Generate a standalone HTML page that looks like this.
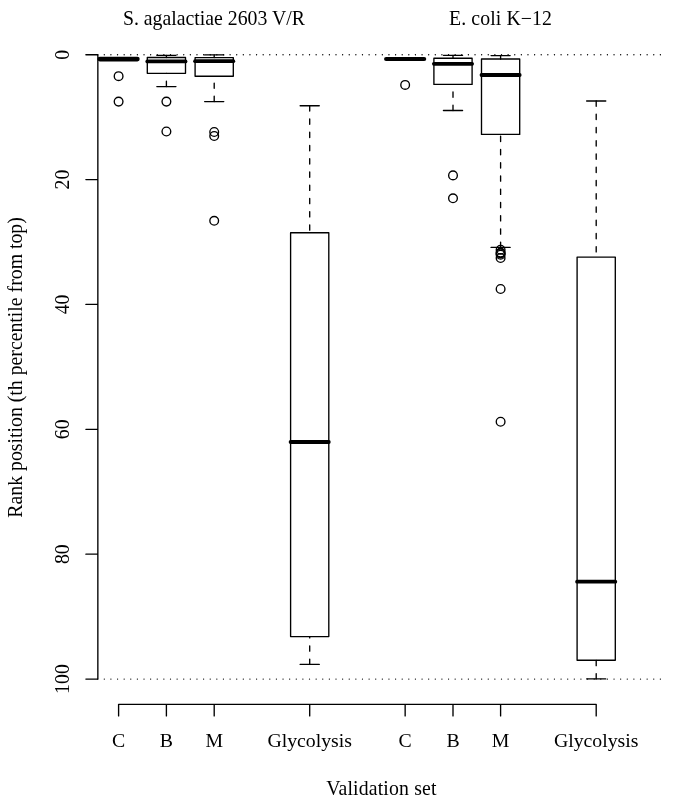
<!DOCTYPE html>
<html lang="en"><head><meta charset="utf-8"><title>Rank position boxplot</title>
<style>html,body{margin:0;padding:0;background:#fff}svg{display:block}</style></head>
<body>
<svg width="685" height="811" viewBox="0 0 685 811">
<rect width="685" height="811" fill="#fff"/>
<g fill="none" stroke="#000" stroke-width="1.35" stroke-linecap="round" stroke-linejoin="round">
<line x1="97.68" y1="54.7" x2="661.0" y2="54.7" stroke-dasharray="0 6.62"/>
<line x1="97.68" y1="679.05" x2="661.0" y2="679.05" stroke-dasharray="0 6.62"/>
<line x1="99.85" y1="59.1" x2="137.35" y2="59.1" stroke-width="4.7"/>
<circle cx="118.6" cy="76.15" r="4.35"/>
<circle cx="118.6" cy="101.6" r="4.35"/>
<line x1="166.4" y1="55.3" x2="166.4" y2="57.5" stroke-dasharray="5.3 7.94"/>
<line x1="156.85" y1="55.3" x2="175.95000000000002" y2="55.3"/>
<line x1="166.4" y1="86.6" x2="166.4" y2="73.3" stroke-dasharray="5.3 7.94"/>
<line x1="156.85" y1="86.6" x2="175.95000000000002" y2="86.6"/>
<rect x="147.3" y="57.5" width="38.2" height="15.799999999999997"/>
<line x1="147.30" y1="61.4" x2="185.50" y2="61.4" stroke-width="3.8"/>
<circle cx="166.4" cy="101.6" r="4.35"/>
<circle cx="166.4" cy="131.5" r="4.35"/>
<line x1="214.2" y1="54.9" x2="214.2" y2="57.6" stroke-dasharray="5.3 7.94"/>
<line x1="204.64999999999998" y1="54.9" x2="223.75" y2="54.9"/>
<line x1="214.2" y1="101.6" x2="214.2" y2="76.2" stroke-dasharray="5.3 7.94"/>
<line x1="204.64999999999998" y1="101.6" x2="223.75" y2="101.6"/>
<rect x="195.1" y="57.6" width="38.2" height="18.6"/>
<line x1="195.10" y1="61.2" x2="233.30" y2="61.2" stroke-width="3.8"/>
<circle cx="214.2" cy="132.0" r="4.35"/>
<circle cx="214.2" cy="136.0" r="4.35"/>
<circle cx="214.2" cy="220.8" r="4.35"/>
<line x1="309.7" y1="105.7" x2="309.7" y2="232.7" stroke-dasharray="5.3 7.94"/>
<line x1="300.15" y1="105.7" x2="319.25" y2="105.7"/>
<line x1="309.7" y1="664.4" x2="309.7" y2="636.6" stroke-dasharray="5.3 7.94"/>
<line x1="300.15" y1="664.4" x2="319.25" y2="664.4"/>
<rect x="290.59999999999997" y="232.7" width="38.2" height="403.90000000000003"/>
<line x1="290.60" y1="442.0" x2="328.80" y2="442.0" stroke-width="3.8"/>
<line x1="386.10" y1="58.95" x2="424.20" y2="58.95" stroke-width="4.1"/>
<circle cx="405.15" cy="84.9" r="4.35"/>
<line x1="453.0" y1="55.3" x2="453.0" y2="58.2" stroke-dasharray="5.3 7.94"/>
<line x1="443.45" y1="55.3" x2="462.55" y2="55.3"/>
<line x1="453.0" y1="110.5" x2="453.0" y2="84.4" stroke-dasharray="5.3 7.94"/>
<line x1="443.45" y1="110.5" x2="462.55" y2="110.5"/>
<rect x="433.9" y="58.2" width="38.2" height="26.200000000000003"/>
<line x1="433.90" y1="63.8" x2="472.10" y2="63.8" stroke-width="3.8"/>
<circle cx="453.0" cy="175.4" r="4.35"/>
<circle cx="453.0" cy="198.3" r="4.35"/>
<line x1="500.6" y1="55.6" x2="500.6" y2="59.0" stroke-dasharray="5.3 7.94"/>
<line x1="491.05" y1="55.6" x2="510.15000000000003" y2="55.6"/>
<line x1="500.6" y1="247.4" x2="500.6" y2="134.4" stroke-dasharray="5.3 7.94"/>
<line x1="491.05" y1="247.4" x2="510.15000000000003" y2="247.4"/>
<rect x="481.5" y="59.0" width="38.2" height="75.4"/>
<line x1="481.50" y1="75.0" x2="519.70" y2="75.0" stroke-width="3.8"/>
<circle cx="500.6" cy="249.75" r="4.35"/>
<circle cx="500.6" cy="252.6" r="4.35"/>
<circle cx="500.6" cy="253.4" r="4.35"/>
<circle cx="500.6" cy="254.7" r="4.35"/>
<circle cx="500.6" cy="258.0" r="4.35"/>
<circle cx="500.6" cy="289.0" r="4.35"/>
<circle cx="500.6" cy="421.8" r="4.35"/>
<line x1="596.2" y1="101.0" x2="596.2" y2="257.1" stroke-dasharray="5.3 7.94"/>
<line x1="586.6500000000001" y1="101.0" x2="605.75" y2="101.0"/>
<line x1="596.2" y1="678.9" x2="596.2" y2="660.2" stroke-dasharray="5.3 7.94"/>
<line x1="586.6500000000001" y1="678.9" x2="605.75" y2="678.9"/>
<rect x="577.1" y="257.1" width="38.2" height="403.1"/>
<line x1="577.10" y1="581.7" x2="615.30" y2="581.7" stroke-width="3.8"/>
<path d="M97.85 54.7V679.0500000000001M97.85 54.70H85.9M97.85 179.57H85.9M97.85 304.44H85.9M97.85 429.31H85.9M97.85 554.18H85.9M97.85 679.05H85.9"/>
<path d="M118.6 704.3H596.2M118.6 704.3V715.9M166.4 704.3V715.9M214.2 704.3V715.9M309.7 704.3V715.9M405.15 704.3V715.9M453.0 704.3V715.9M500.6 704.3V715.9M596.2 704.3V715.9"/>
</g>
<g font-family="'Liberation Serif', 'Times New Roman', serif" font-size="19.8" fill="#000" text-anchor="middle">
<text transform="translate(118.6 746.7)">C</text>
<text transform="translate(166.4 746.7)">B</text>
<text transform="translate(214.2 746.7)">M</text>
<text transform="translate(309.7 746.7)">Glycolysis</text>
<text transform="translate(405.15 746.7)">C</text>
<text transform="translate(453.0 746.7)">B</text>
<text transform="translate(500.6 746.7)">M</text>
<text transform="translate(596.2 746.7)">Glycolysis</text>
<text transform="translate(381.4 795.0) scale(1 1.03)" letter-spacing="0.15">Validation set</text>
<text transform="translate(69.0 54.7) rotate(-90) scale(1 1.045)">0</text>
<text transform="translate(69.0 179.57) rotate(-90) scale(1 1.045)">20</text>
<text transform="translate(69.0 304.44) rotate(-90) scale(1 1.045)">40</text>
<text transform="translate(69.0 429.31) rotate(-90) scale(1 1.045)">60</text>
<text transform="translate(69.0 554.18) rotate(-90) scale(1 1.045)">80</text>
<text transform="translate(69.0 679.05) rotate(-90) scale(1 1.045)">100</text>
<text transform="translate(21.8 367.4) rotate(-90) scale(1 1.03)">Rank position (th percentile from top)</text>
<text transform="translate(213.9 25.0) scale(1 1.025)">S. agalactiae 2603 V/R</text>
<text transform="translate(500.6 25.0) scale(1 1.025)" letter-spacing="0.1">E. coli K−12</text>
</g>
</svg>
</body></html>
